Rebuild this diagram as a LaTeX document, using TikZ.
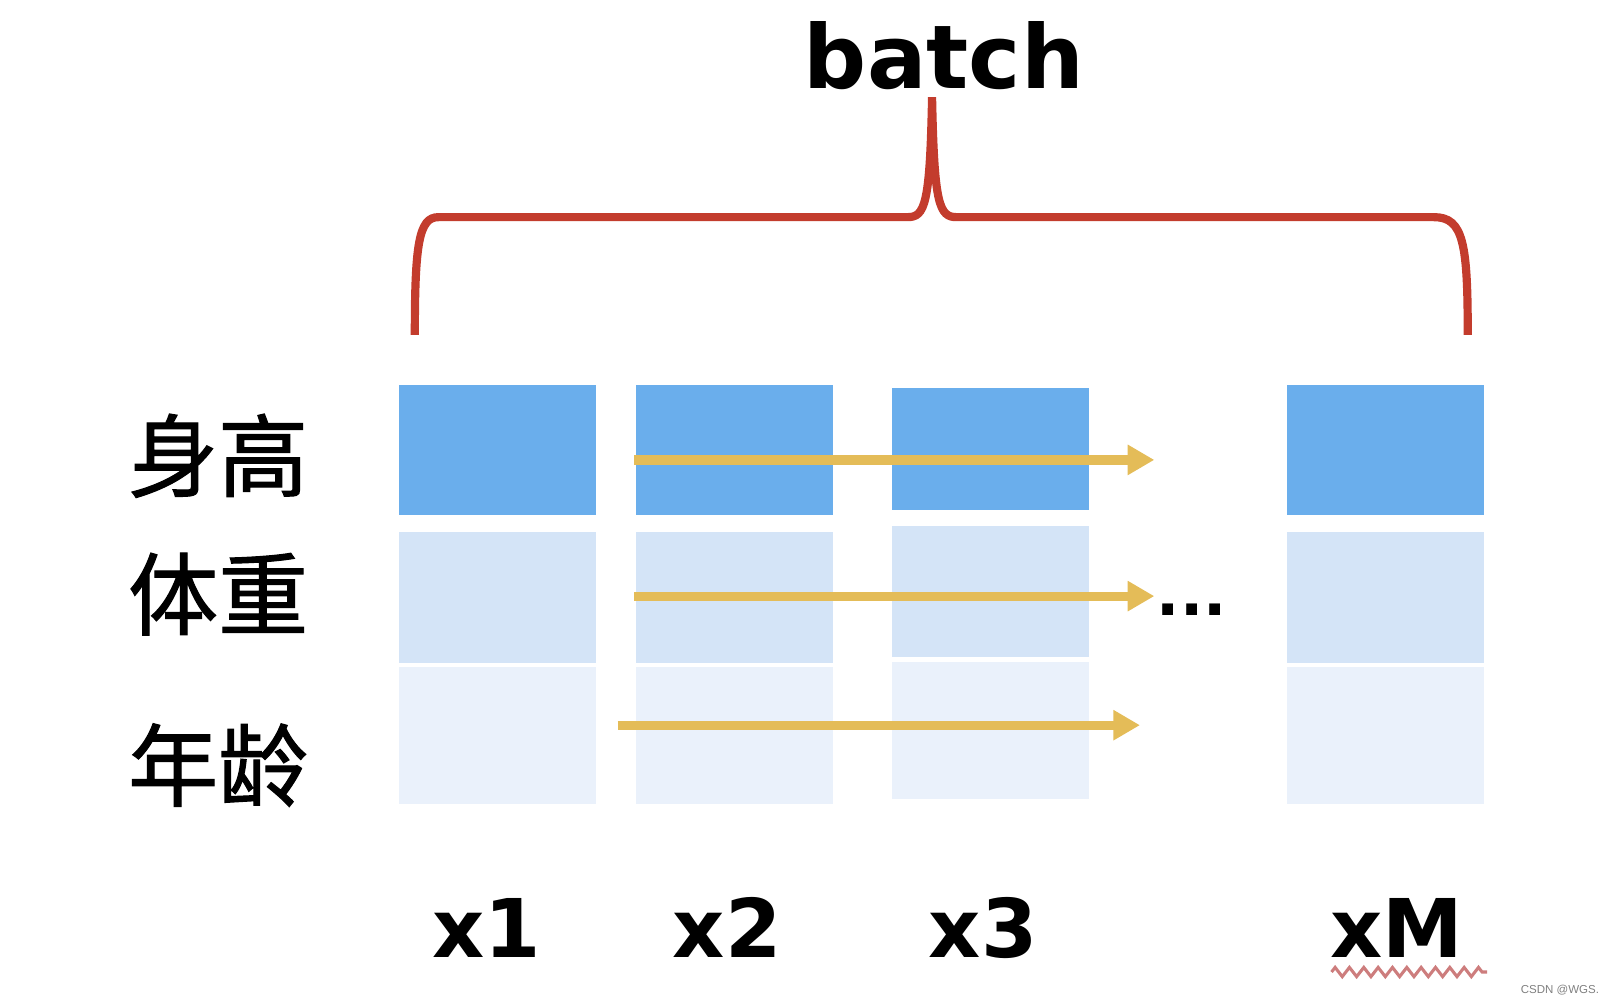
\documentclass[tikz,border=0pt]{standalone}
\usepackage{fontspec}
\setmainfont{DejaVu Sans}
\newfontfamily\cjk{Noto Sans CJK SC}[FakeBold=1.2]
\newfontfamily\markfont{Liberation Sans}
\usepackage{tikz}
\usetikzlibrary{arrows.meta}
\usetikzlibrary{decorations.pathmorphing}

\definecolor{topblue}{RGB}{106,174,236}
\definecolor{midblue}{RGB}{212,228,247}
\definecolor{lowblue}{RGB}{234,241,251}
\definecolor{flowyellow}{RGB}{228,188,88}
\definecolor{bracered}{RGB}{195,60,45}
\definecolor{wavyred}{RGB}{205,125,125}

\begin{document}
\begin{tikzpicture}[
  cell/.style={inner sep=0, outer sep=0, minimum width=1.92cm},
  flow/.style={draw=flowyellow, line width=0.09cm, -{Triangle[length=0.26cm, width=0.28cm]}},
  rowlabel/.style={font=\cjk\fontsize{25pt}{30pt}\selectfont},
  collabel/.style={anchor=base, font=\bfseries\fontsize{22.5pt}{27pt}\selectfont}
]
\useasboundingbox (0,0) rectangle (15.68,9.80);

% cells, column x1
\node[cell, fill=topblue, minimum height=1.27cm] (h1) at (4.86,5.405) {};
\node[cell, fill=midblue, minimum height=1.28cm] (w1) at (4.86,3.97) {};
\node[cell, fill=lowblue, minimum height=1.34cm] (g1) at (4.86,2.62) {};

% column x2
\node[cell, fill=topblue, minimum height=1.27cm] (h2) at (7.17,5.405) {};
\node[cell, fill=midblue, minimum height=1.28cm] (w2) at (7.17,3.97) {};
\node[cell, fill=lowblue, minimum height=1.34cm] (g2) at (7.17,2.62) {};

% column x3
\node[cell, fill=topblue, minimum height=1.19cm] (h3) at (9.67,5.415) {};
\node[cell, fill=midblue, minimum height=1.27cm] (w3) at (9.67,4.025) {};
\node[cell, fill=lowblue, minimum height=1.34cm] (g3) at (9.67,2.67) {};

% column xM
\node[cell, fill=topblue, minimum height=1.27cm] (hM) at (13.53,5.405) {};
\node[cell, fill=midblue, minimum height=1.28cm] (wM) at (13.53,3.97) {};
\node[cell, fill=lowblue, minimum height=1.34cm] (gM) at (13.53,2.62) {};

% row labels
\node[rowlabel] (height) at (2.13,5.35) {身高};
\node[rowlabel] (weight) at (2.13,4.00) {体重};
\node[rowlabel] (age) at (2.13,2.33) {年龄};

% feature arrows
\coordinate (hs) at (6.19,5.31);
\coordinate (he) at (11.27,5.31);
\coordinate (ws) at (6.19,3.98);
\coordinate (we) at (11.27,3.98);
\coordinate (gs) at (6.03,2.72);
\coordinate (ge) at (11.13,2.72);
\draw[flow] (hs) -- (he);
\draw[flow] (ws) -- (we);
\draw[flow] (gs) -- (ge);

\node[font=\bfseries\fontsize{17pt}{20pt}\selectfont, inner sep=0] (dots) at (11.635,3.845) {...};

% batch brace
\draw[bracered, line width=0.08cm] (4.05,6.53) .. controls (4.05,7.42) and (4.09,7.68) .. (4.28,7.68)
  -- (8.86,7.68) .. controls (9.03,7.68) and (9.08,7.80) .. (9.10,8.85)
  .. controls (9.12,7.80) and (9.17,7.68) .. (9.34,7.68)
  -- (14.00,7.68) .. controls (14.29,7.68) and (14.33,7.42) .. (14.33,6.53);
\node[anchor=base, font=\bfseries\fontsize{24.5pt}{29pt}\selectfont] (batch) at (9.215,8.94) {batch};

% sample labels
\node[collabel] (x1) at (4.755,0.45) {x1};
\node[collabel] (x2) at (7.10,0.45) {x2};
\node[collabel] (x3) at (9.60,0.45) {x3};
\node[collabel] (xM) at (13.64,0.45) {xM};
\draw[wavyred, line width=0.03cm, decorate, decoration={zigzag, segment length=0.14cm, amplitude=0.045cm}] (13.00,0.31) -- (14.52,0.31);

\node[font=\markfont\fontsize{3.2pt}{4pt}\selectfont, text=gray] (mark) at (15.23,0.13) {CSDN @WGS.};
\end{tikzpicture}
\end{document}
